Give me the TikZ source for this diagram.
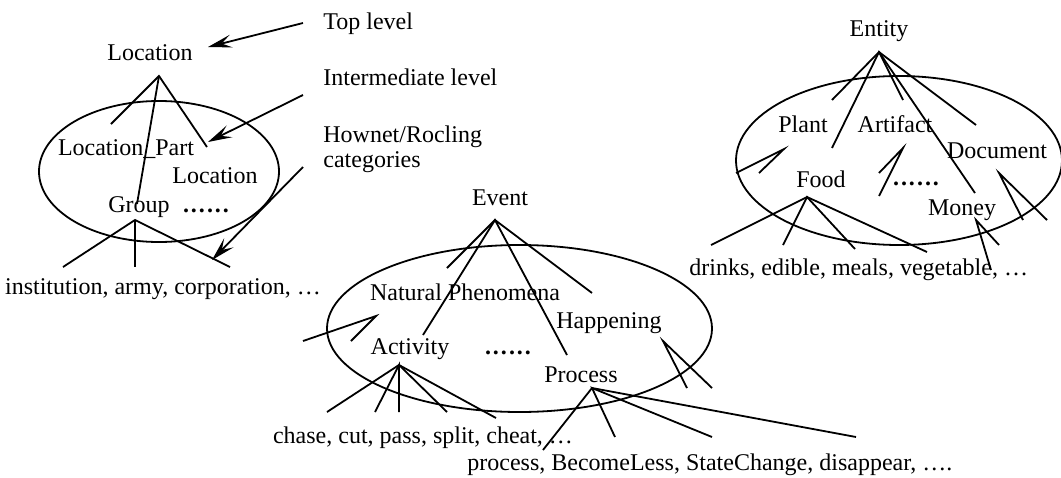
\documentclass[tikz,border=0pt]{standalone}
\usepackage{fontspec}
\setmainfont{Liberation Serif}
\usetikzlibrary{arrows.meta}
\newcommand\dotrow{\textbf{.\kern1pt.\kern1pt.\kern1pt.\kern1pt.\kern1pt.}}
\tikzset{
  lbl/.style={inner sep=0pt, anchor=base, font=\fontsize{12}{14}\selectfont},
  lblw/.style={lbl, anchor=base west},
  ln/.style={line width=0.9pt},
  arr/.style={line width=0.9pt, -{Stealth[length=12pt,width=6.5pt,inset=5pt]}},
  oval/.style={line width=0.9pt}
}
\begin{document}
\begin{tikzpicture}[x=0.5pt,y=-0.5pt]
\useasboundingbox (0,0) rectangle (1061,477);
% ---------------- left tree ----------------
\node[lbl] (loc) at (150,60) {Location};
\node[lbl] (locpart) at (126,155) {Location\_Part};
\node[lbl] (loc2) at (215,183) {Location};
\node[lbl] (group) at (139,212) {Group};
\node[lbl] (dotsA) at (206,212) {\dotrow};
\node[lbl] (inst) at (163,294) {institution, army, corporation, …};
\node[lblw] (top) at (323,29) {Top level};
\node[lblw] (inter) at (323,85) {Intermediate level};
\node[lblw] (hown) at (323,142) {Hownet/Rocling};
\node[lblw] (cats) at (323,167) {categories};
\draw[oval] (159,171.5) ellipse [x radius=60pt, y radius=35.25pt];
\coordinate (LA) at (159,76);
\coordinate (l1) at (111,124);
\coordinate (l2) at (137,204);
\coordinate (l3) at (207,147);
\draw[ln] (l1) -- (LA) -- (l3);
\draw[ln] (LA) -- (l2);
\coordinate (GA) at (135,220);
\coordinate (g1) at (63,267);
\coordinate (g2) at (135,267);
\coordinate (g3) at (230,267);
\draw[ln] (g1) -- (GA) -- (g3);
\draw[ln] (GA) -- (g2);
\coordinate (t0) at (303,23);
\coordinate (t1) at (208,47);
\coordinate (i0) at (303,95);
\coordinate (i1) at (208,142);
\coordinate (h0) at (303,167);
\coordinate (h1) at (212,260);
\draw[arr] (t0) -- (t1);
\draw[arr] (i0) -- (i1);
\draw[arr] (h0) -- (h1);
% ---------------- middle tree ----------------
\node[lbl] (event) at (500,205) {Event};
\node[lbl] (natph) at (465,300) {Natural Phenomena};
\node[lbl] (happ) at (609,328) {Happening};
\node[lbl] (act) at (410,354) {Activity};
\node[lbl] (dotsB) at (508,354) {\dotrow};
\node[lbl] (proc) at (581,382) {Process};
\node[lbl] (chase) at (423,443) {chase, cut, pass, split, cheat, …};
\node[lblw] (procs) at (467,470) {process, BecomeLess, StateChange, disappear, ….};
\draw[oval] (519.5,328.5) ellipse [x radius=96.25pt, y radius=41.75pt];
\coordinate (EA) at (495,220);
\coordinate (e1) at (447,268);
\coordinate (e2) at (423,335);
\coordinate (e3) at (567,355);
\coordinate (e4) at (592,293);
\draw[ln] (e1) -- (EA) -- (e4);
\draw[ln] (e2) -- (EA) -- (e3);
\coordinate (NA) at (376,316);
\coordinate (n1) at (303,341);
\coordinate (n2) at (351,341);
\draw[ln] (n1) -- (NA) -- (n2);
\coordinate (HA) at (663,341);
\coordinate (hp1) at (687,388);
\coordinate (hp2) at (712,388);
\draw[ln] (hp1) -- (HA) -- (hp2);
\coordinate (AA) at (399,365);
\coordinate (a1) at (327,412);
\coordinate (a2) at (375,412);
\coordinate (a3) at (399,412);
\coordinate (a4) at (447,412);
\coordinate (a5) at (496,418);
\draw[ln] (a1) -- (AA) -- (a5);
\draw[ln] (a2) -- (AA) -- (a3);
\draw[ln] (AA) -- (a4);
\coordinate (PA) at (592,388);
\coordinate (p1) at (543,450);
\coordinate (p2) at (615,437);
\coordinate (p3) at (712,437);
\coordinate (p4) at (856,437);
\draw[ln] (p1) -- (PA) -- (p4);
\draw[ln] (p2) -- (PA) -- (p3);
% ---------------- right tree ----------------
\node[lbl] (entity) at (879,36) {Entity};
\node[lbl] (plant) at (803,132) {Plant};
\node[lbl] (artif) at (895,132) {Artifact};
\node[lbl] (doc) at (997,158) {Document};
\node[lbl] (food) at (821,187) {Food};
\node[lbl] (dotsC) at (916,185) {\dotrow};
\node[lbl] (money) at (962,215) {Money};
\node[lblw] (drinks) at (689,275) {drinks, edible, meals, vegetable, …};
\draw[oval] (899,160.5) ellipse [x radius=81.5pt, y radius=42.25pt];
\coordinate (NtA) at (879,52);
\coordinate (r1) at (832,100);
\coordinate (r2) at (832,148);
\coordinate (r3) at (903,100);
\coordinate (r4) at (975,193);
\coordinate (r5) at (976,125);
\draw[ln] (r1) -- (NtA) -- (r5);
\draw[ln] (r2) -- (NtA) -- (r4);
\draw[ln] (NtA) -- (r3);
\coordinate (PlA) at (784,149);
\coordinate (pl1) at (736,173);
\coordinate (pl2) at (759,173);
\draw[ln] (pl1) -- (PlA) -- (pl2);
\coordinate (ArA) at (903,148);
\coordinate (ar1) at (879,173);
\coordinate (ar2) at (879,196);
\draw[ln] (ar1) -- (ArA) -- (ar2);
\coordinate (DoA) at (999,173);
\coordinate (do1) at (1023,220);
\coordinate (do2) at (1047,220);
\draw[ln] (do1) -- (DoA) -- (do2);
\coordinate (MoA) at (976,220);
\coordinate (mo1) at (999,245);
\coordinate (mo2) at (991,270);
\draw[ln] (mo1) -- (MoA) -- (mo2);
\coordinate (FA) at (807,197);
\coordinate (f1) at (711,245);
\coordinate (f2) at (783,245);
\coordinate (f3) at (855,249);
\coordinate (f4) at (927,252);
\draw[ln] (f1) -- (FA) -- (f4);
\draw[ln] (f2) -- (FA) -- (f3);
\end{tikzpicture}
\end{document}
